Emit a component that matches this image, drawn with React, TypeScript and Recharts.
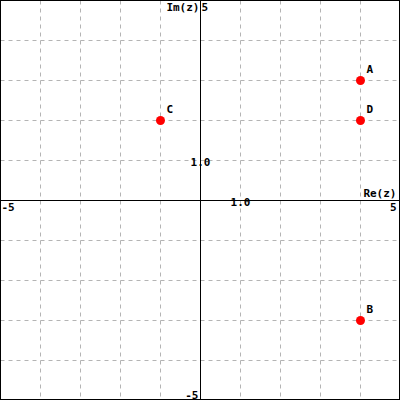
import React from "react"
import {
  ScatterChart,
  Scatter,
  XAxis,
  YAxis,
  CartesianGrid,
  ReferenceLine,
  ReferenceDot,
} from "recharts"

// points in the complex plane
const names = ["A", "B", "C", "D"]
const reParts = [4, 4, -1, 4]
const imParts = [3, -3, 2, 2]

const gridTicks = [-5, -4, -3, -2, -1, 0, 1, 2, 3, 4, 5]
const axisMin = -5
const axisMax = 5

const points = names.map((name, i) => ({ name, x: reParts[i], y: imParts[i] }))

const FONT = "'DejaVu Sans Mono', monospace"
const textStyle = { fontFamily: FONT, fontSize: 11, fontWeight: "bold" as const, fill: "#000" }

const PointShape = (props: any) => {
  const { cx, cy, payload } = props
  return (
    <g>
      <circle cx={cx} cy={cy} r={4.5} fill="#ff0000" />
      <text x={cx + 6} y={cy - 8} style={textStyle}>
        {payload.name}
      </text>
    </g>
  )
}

const ImAxisLabel = (props: any) => {
  const { x, y, height } = props.viewBox
  return (
    <g>
      <text x={x - 1} y={y + 10} textAnchor="end" style={textStyle}>Im(z)</text>
      <text x={x + 1} y={y + 10} style={textStyle}>{axisMax}</text>
      <text x={x - 2} y={y + height - 2} textAnchor="end" style={textStyle}>{axisMin}</text>
    </g>
  )
}

const ReAxisLabel = (props: any) => {
  const { x, y, width } = props.viewBox
  return (
    <g>
      <text x={x + width - 4} y={y - 4} textAnchor="end" style={textStyle}>Re(z)</text>
      <text x={x + width - 4} y={y + 10} textAnchor="end" style={textStyle}>{axisMax}</text>
      <text x={x + 1} y={y + 10} style={textStyle}>{axisMin}</text>
    </g>
  )
}

const UnitLabel = (dy: number) => (props: any) => {
  const { x, y } = props.viewBox
  return (
    <text x={x} y={y + dy} textAnchor="middle" style={textStyle}>1.0</text>
  )
}

export default function App() {
  return (
    <div style={{ position: "absolute", left: 0, top: 0, width: 400, height: 400, background: "#fff" }}>
      <ScatterChart
        width={401}
        height={401}
        margin={{ top: 0.5, left: 0.5, right: 0.5, bottom: 0.5 }}
      >
        <CartesianGrid stroke="#b4b4b4" strokeDasharray="4 4" />
        <XAxis type="number" dataKey="x" domain={[axisMin, axisMax]} ticks={gridTicks} hide />
        <YAxis type="number" dataKey="y" domain={[axisMin, axisMax]} ticks={gridTicks} hide />
        <ReferenceLine x={0} stroke="#000" label={<ImAxisLabel />} />
        <ReferenceLine y={0} stroke="#000" label={<ReAxisLabel />} />
        <ReferenceDot x={0} y={1} r={0} stroke="none" fill="none" label={UnitLabel(5)} />
        <ReferenceDot x={1} y={0} r={0} stroke="none" fill="none" label={UnitLabel(5)} />
        <Scatter data={points} shape={PointShape} isAnimationActive={false} />
      </ScatterChart>
      <div
        style={{
          position: "absolute",
          left: 0,
          top: 0,
          width: 400,
          height: 400,
          boxSizing: "border-box",
          border: "1px solid #000",
          pointerEvents: "none",
        }}
      />
    </div>
  )
}
